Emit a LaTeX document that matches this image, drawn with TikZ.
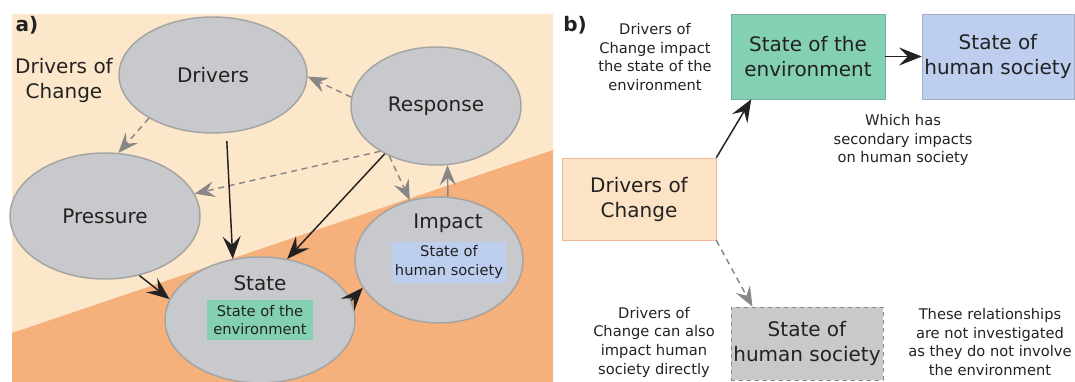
\documentclass[tikz,border=0pt]{standalone}
\usepackage{fontspec}
\setmainfont{DejaVu Sans}
\usetikzlibrary{arrows.meta,shapes.geometric}
\definecolor{beige}{HTML}{FDE7CB}
\definecolor{orng}{HTML}{F5B07C}
\definecolor{blobfill}{HTML}{C8C9CC}
\definecolor{blobline}{HTML}{A4A4A4}
\definecolor{envgreen}{HTML}{84D0B3}
\definecolor{socblue}{HTML}{BDCEEE}
\definecolor{docfill}{HTML}{FCE3C5}
\definecolor{docline}{HTML}{F1B893}
\definecolor{hsgray}{HTML}{C9C9C9}
\definecolor{ink}{HTML}{222222}
\definecolor{arrgray}{HTML}{878787}
\newcommand\fsbig{\fontsize{15}{18.75}\selectfont}
\newcommand\fssmall{\fontsize{11}{14}\selectfont}

\begin{document}
\begin{tikzpicture}[x=0.75pt,y=-0.75pt,
  blob/.style={ellipse,draw=blobline,line width=1.1pt,fill=blobfill,inner sep=0pt,text=ink,font=\fsbig},
  tag/.style={inner sep=0pt,align=center,text=ink,font=\fssmall},
  box/.style={rectangle,inner sep=0pt,align=center,text=ink,font=\fsbig},
  note/.style={align=center,text=ink,font=\fssmall},
  main/.style={-{Stealth[length=17pt,width=13.5pt,inset=6.5pt]},line width=1.1pt,ink},
  side/.style={-{Stealth[length=15pt,width=12pt,inset=5.5pt]},line width=1.1pt,arrgray,dash pattern=on 4.5pt off 3.5pt}]
\useasboundingbox (0,0) rectangle (1075,382);
\fill[beige] (12,14) rectangle (553,382);
\fill[orng] (12,333) -- (553,150) -- (553,382) -- (12,382) -- cycle;
\node[text=ink,font=\fsbig\bfseries] (pa) at (27,25) {a)};
\node[align=center,text=ink,font=\fsbig] (doca) at (64,80) {Drivers of\\Change};
\node[blob,minimum width=141pt,minimum height=87pt] (drv) at (213,75) {Drivers};
\node[blob,minimum width=127.5pt,minimum height=88.5pt] (rsp) at (436,106) {Response};
\node[blob,minimum width=142.5pt,minimum height=94.5pt] (prs) at (105,216) {Pressure};
\node[blob,minimum width=142.5pt,minimum height=94.5pt] (sta) at (260,320) {};
\node[blob,minimum width=126pt,minimum height=94.5pt] (imp) at (439,260) {};
\node[text=ink,font=\fsbig] (stat) at (260,283) {State};
\node[tag,fill=envgreen,minimum width=79.5pt,minimum height=30pt] (stag) at (260,320) {State of the\\environment};
\node[text=ink,font=\fsbig] (impt) at (448,223) {Impact};
\node[tag,fill=socblue,minimum width=85.5pt,minimum height=30.75pt] (itag) at (449,262) {State of\\human society};
\draw[side] (drv.214) -- (prs.78);
\draw[side] (rsp.174) -- (drv.-1);
\draw[side] (rsp.219) -- (prs.14);
\draw[side] (rsp.227) -- (imp.116);
\draw[side,solid] (imp.82) -- (rsp.281);
\draw[main,shorten <=6pt] (drv.283) -- (sta.114);
\draw[main] (rsp.223) -- (sta.66);
\draw[main] (prs.300) -- (sta.167);
\draw[main] (sta.12) -- (imp.200);
\node[text=ink,font=\fsbig\bfseries] (pb) at (575,25) {b)};
\node[note] (nenv) at (655,57) {Drivers of\\Change impact\\the state of the\\environment};
\node[box,fill=envgreen,draw=envgreen!85!black,minimum width=115.5pt,minimum height=63.75pt] (env) at (808,56.5) {State of the\\environment};
\node[box,fill=socblue,draw=socblue!85!black,minimum width=114pt,minimum height=63.75pt] (hum) at (998,56.5) {State of\\human society};
\node[note] (nsec) at (903,140) {Which has\\secondary impacts\\on human society};
\node[box,fill=docfill,draw=docline,minimum width=115.5pt,minimum height=61.5pt] (doc) at (639,199) {Drivers of\\Change};
\node[box,fill=hsgray,draw=arrgray,dashed,minimum width=114pt,minimum height=54.75pt] (hsd) at (807,343.5) {State of\\human society};
\node[note] (ndir) at (654,342) {Drivers of\\Change can also\\impact human\\society directly};
\node[note] (nnot) at (990,342) {These relationships\\are not investigated\\as they do not involve\\the environment};
\draw[main] (env) -- (hum);
\draw[main] (doc.north east) -- (env.217);
\draw[side] (doc.south east) -- (hsd.146);
\end{tikzpicture}
\end{document}
